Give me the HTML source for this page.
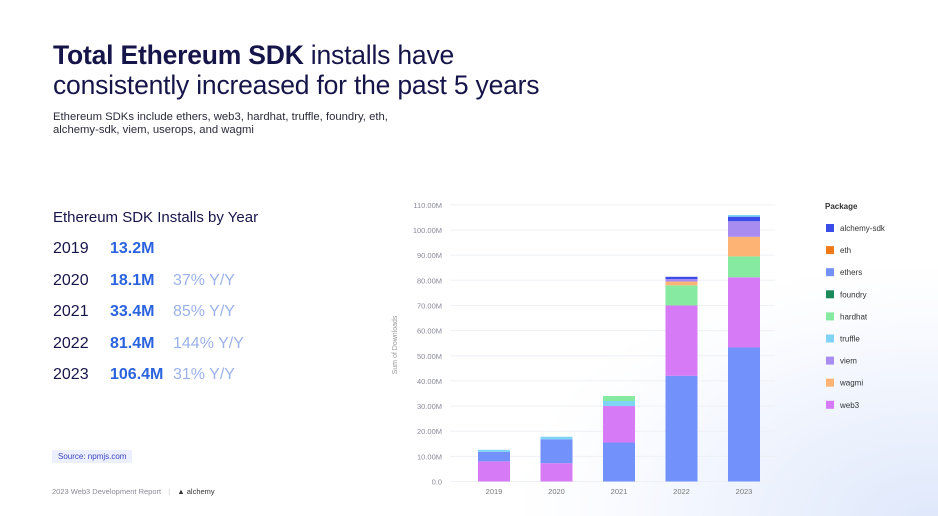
<!DOCTYPE html>
<html><head><meta charset="utf-8"><style>
body{margin:0;width:938px;height:516px;overflow:hidden;font-family:"Liberation Sans",sans-serif;}
#page{position:relative;width:938px;height:516px;background:radial-gradient(ellipse 420px 260px at 930px 520px,#dfe8fb 0%,#eef3fd 45%,#fbfcff 80%,#ffffff 100%);}
.abs{position:absolute;white-space:nowrap;}
.title{left:53px;font-size:26.5px;color:#16154a;letter-spacing:-0.2px;}
.sub{left:53px;font-size:11.3px;color:#2a2a3a;}
.row{left:53px;font-size:16px;color:#16154a;}
.val{position:absolute;left:57px;color:#2b63de;font-weight:bold;}
.yy{position:absolute;left:120px;color:#9bb2ea;}
</style></head><body>
<div id="page">
<div class="abs title" style="top:40px"><b>Total Ethereum SDK</b> installs have</div>
<div class="abs title" style="top:70px">consistently increased for the past 5 years</div>
<div class="abs sub" style="top:111px">Ethereum SDKs include ethers, web3, hardhat, truffle, foundry, eth,</div>
<div class="abs sub" style="top:124px">alchemy-sdk, viem, userops, and wagmi</div>
<div class="abs" style="left:53px;top:209px;font-size:15px;color:#16154a">Ethereum SDK Installs by Year</div>
<div class="abs row" style="top:240px">2019<span class="val">13.2M</span></div>
<div class="abs row" style="top:272px">2020<span class="val">18.1M</span><span class="yy">37% Y/Y</span></div>
<div class="abs row" style="top:303px">2021<span class="val">33.4M</span><span class="yy">85% Y/Y</span></div>
<div class="abs row" style="top:335px">2022<span class="val">81.4M</span><span class="yy">144% Y/Y</span></div>
<div class="abs row" style="top:366px">2023<span class="val">106.4M</span><span class="yy">31% Y/Y</span></div>
<div class="abs" style="left:52px;top:450px;padding:2px 6px;background:#eceffd;color:#3a44c0;font-size:8px">Source: npmjs.com</div>
<div class="abs" style="left:52px;top:487px;font-size:7.5px;color:#8a8a99">2023 Web3 Development Report <span style="color:#ccc;margin:0 5px">|</span> <span style="color:#333">▲ alchemy</span></div>
<svg id="chart" class="abs" style="left:0;top:0" width="938" height="516"></svg>
</div>
<script>
const years=["2019","2020","2021","2022","2023"];
const packages=["alchemy-sdk","eth","ethers","foundry","hardhat","truffle","viem","wagmi","web3"];
const colors=["#3b4de8","#f07a1a","#7391fb","#1a8a5a","#86eaa0","#7fd3f5","#a88cf0","#fdb374","#d67bf5"];
const alchemySdk=[0,0,0,0.9,1.8];
const eth=[0,0,0,0,0];
const ethers=[3.8,9.5,15.5,42,53.3];
const foundry=[0,0,0,0,0];
const hardhat=[0,0,2,8,8.3];
const truffle=[0.8,1,2,0,0.7];
const viem=[0,0,0,1,6.2];
const wagmi=[0,0,0,1.5,7.8];
const web3=[8,7.3,14.5,28,27.9];
const yTicks=[0,10,20,30,40,50,60,70,80,90,100,110];
const yTickLabels=["0.0","10.00M","20.00M","30.00M","40.00M","50.00M","60.00M","70.00M","80.00M","90.00M","100.00M","110.00M"];
const stackOrder2019=["web3","ethers","truffle"];
const stackOrder2020=["web3","ethers","truffle"];
const stackOrder2021=["ethers","web3","truffle","hardhat"];
const stackOrder2022=["ethers","web3","hardhat","wagmi","viem","alchemy-sdk","truffle"];
const stackOrder2023=["ethers","web3","hardhat","wagmi","viem","alchemy-sdk","truffle"];
const stackOrders=[stackOrder2019,stackOrder2020,stackOrder2021,stackOrder2022,stackOrder2023];
const series=[alchemySdk,eth,ethers,foundry,hardhat,truffle,viem,wagmi,web3];
const svg=document.getElementById('chart');
const NS="http://www.w3.org/2000/svg";
const y0=481.5,pxPerM=2.515;
function yS(v){return y0-v*pxPerM;}
function xS(i){return 494+i*62.5;}
function mk(t,a){const e=document.createElementNS(NS,t);for(const k in a)e.setAttribute(k,a[k]);svg.appendChild(e);return e;}
yTicks.forEach((t,i)=>{
 const l=mk('line',{x1:450,x2:775,y1:yS(t),y2:yS(t),stroke:'#eef0f5','stroke-width':1});
 
 
 const tx=mk('text',{x:442,y:yS(t)+3,'text-anchor':'end','font-size':7.5,fill:'#8a8a9a','font-family':'Liberation Sans'});
 tx.textContent=yTickLabels[i];
 
 
});
const yt=mk('text',{x:0,y:0,transform:'translate(397,345) rotate(-90)','text-anchor':'middle','font-size':7,fill:'#999','font-family':'Liberation Sans'});
yt.textContent='Sum of Downloads';


years.forEach((yr,i)=>{
 const order=stackOrders[i].map(n=>packages.indexOf(n));
 series.forEach((s,k)=>{if(s[i]>0&&order.indexOf(k)<0)order.push(k);});
 let base=0;
 order.forEach(k=>{
  const v=series[k][i];
  if(!(v>0))return;
  const r=mk('rect',{x:xS(i)-16,y:yS(base+v),width:32,height:v*pxPerM,fill:colors[k]});
  
  
  base+=v;
 });
 const tx=mk('text',{x:xS(i),y:494,'text-anchor':'middle','font-size':7.5,fill:'#777','font-family':'Liberation Sans'});
 tx.textContent=yr;
 
 
});
const lt=mk('text',{x:825,y:209,'font-size':8,'font-weight':'bold',fill:'#333','font-family':'Liberation Sans'});
lt.textContent='Package';


packages.forEach((p,k)=>{
 const yy=228+k*22.1;
 const r=mk('rect',{x:826,y:yy-4,width:8,height:8,fill:colors[k]});
 
 
 const t=mk('text',{x:840,y:yy+3,'font-size':8,fill:'#333','font-family':'Liberation Sans'});
 t.textContent=p;
 
 
});
</script>
</body></html>
